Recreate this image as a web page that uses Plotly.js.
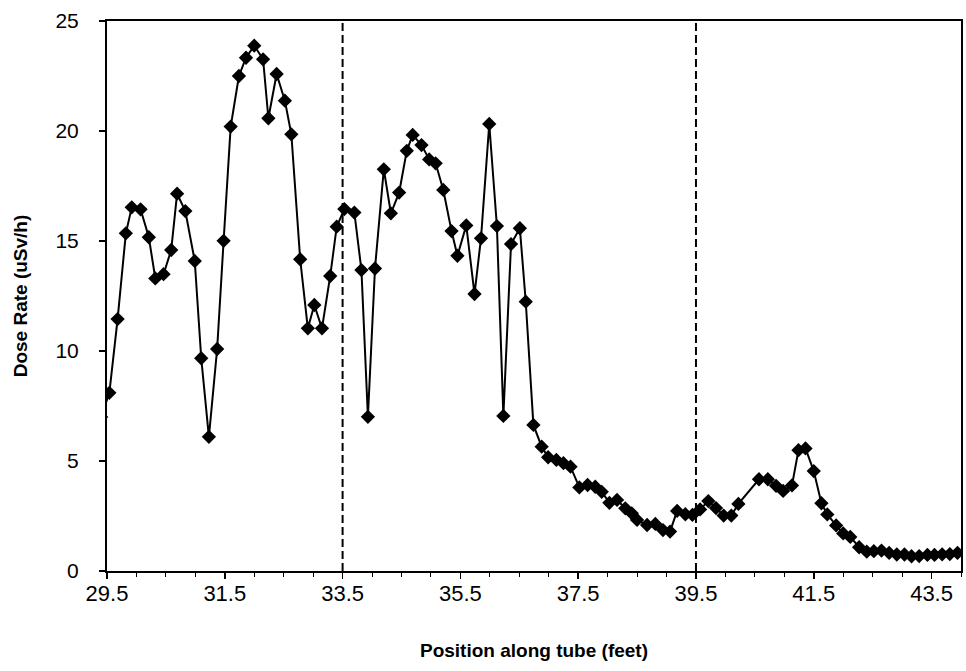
<!DOCTYPE html>
<html>
<head>
<meta charset="utf-8">
<script src="https://cdn.plot.ly/plotly-3.0.1.min.js"></script>
<style>
  html, body { margin: 0; padding: 0; background: #ffffff; }
  #chart { width: 966px; height: 671px; }
</style>
</head>
<body>
<div id="chart"></div>
<script>
// Position along tube (feet)
const positionFeet = [
  29.40, 29.54, 29.68, 29.82, 29.92, 30.07, 30.21, 30.32, 30.46, 30.59,
  30.69, 30.83, 30.99, 31.10, 31.23, 31.37, 31.48, 31.60, 31.74, 31.86,
  32.00, 32.15, 32.24, 32.38, 32.52, 32.63, 32.78, 32.91, 33.02, 33.15,
  33.29, 33.40, 33.53, 33.70, 33.82, 33.93, 34.05, 34.20, 34.32, 34.46,
  34.59, 34.69, 34.84, 34.97, 35.08, 35.21, 35.35, 35.45, 35.60, 35.74,
  35.85, 35.99, 36.12, 36.23, 36.36, 36.51, 36.61, 36.74, 36.88, 36.99,
  37.13, 37.25, 37.37, 37.52, 37.66, 37.79, 37.90, 38.03, 38.16, 38.30,
  38.41, 38.50, 38.67, 38.81, 38.94, 39.06, 39.18, 39.32, 39.44, 39.57,
  39.71, 39.84, 39.97, 40.10, 40.22, 40.57, 40.72, 40.86, 40.98, 41.13,
  41.24, 41.36, 41.50, 41.63, 41.73, 41.88, 42.00, 42.12, 42.27, 42.40,
  42.52, 42.65, 42.78, 42.91, 43.04, 43.16, 43.29, 43.43, 43.55, 43.68,
  43.81, 43.94
];
// Dose rate (uSv/h)
const doseRate = [
  7.00, 8.10, 11.45, 15.35, 16.53, 16.44, 15.17, 13.30, 13.49, 14.59,
  17.15, 16.36, 14.09, 9.67, 6.10, 10.09, 15.01, 20.20, 22.50, 23.33,
  23.88, 23.26, 20.58, 22.59, 21.38, 19.85, 14.17, 11.03, 12.09, 11.03,
  13.41, 15.65, 16.45, 16.29, 13.68, 7.01, 13.75, 18.26, 16.26, 17.20,
  19.10, 19.82, 19.36, 18.71, 18.53, 17.32, 15.45, 14.33, 15.71, 12.59,
  15.12, 20.32, 15.68, 7.05, 14.86, 15.58, 12.24, 6.64, 5.65, 5.17,
  5.05, 4.90, 4.74, 3.80, 3.91, 3.83, 3.60, 3.10, 3.23, 2.85,
  2.62, 2.32, 2.09, 2.14, 1.86, 1.79, 2.73, 2.58, 2.55, 2.80,
  3.18, 2.86, 2.52, 2.52, 3.05, 4.17, 4.17, 3.87, 3.64, 3.89,
  5.49, 5.57, 4.54, 3.08, 2.57, 2.07, 1.71, 1.55, 1.08, 0.88,
  0.90, 0.93, 0.82, 0.75, 0.75, 0.67, 0.68, 0.73, 0.73, 0.76,
  0.77, 0.82
];
// Section boundaries (feet), drawn as dashed vertical lines
const boundaries = [33.5, 39.5];
// Axis tick values / labels
const xTickVals = [29.5, 31.5, 33.5, 35.5, 37.5, 39.5, 41.5, 43.5];
const xTickText = ["29.5", "31.5", "33.5", "35.5", "37.5", "39.5", "41.5", "43.5"];
const yTickVals = [0, 5, 10, 15, 20, 25];

const FONT = "Liberation Sans, Arial, Helvetica, sans-serif";

const traces = [{
  x: positionFeet,
  y: doseRate,
  type: "scatter",
  mode: "lines+markers",
  line: { color: "#000000", width: 2 },
  marker: { symbol: "diamond", size: 11, color: "#000000", line: { width: 0 } },
  hoverinfo: "x+y",
  showlegend: false
}];

const shapes = boundaries.map(b => ({
  type: "line",
  xref: "x", yref: "y",
  x0: b, x1: b, y0: 0, y1: 25,
  line: { color: "#000000", width: 2, dash: "8px,4px" },
  layer: "above"
}));

const layout = {
  width: 966,
  height: 671,
  margin: { l: 107, r: 5, t: 21, b: 100, pad: 0 },
  paper_bgcolor: "#ffffff",
  plot_bgcolor: "#ffffff",
  font: { family: FONT, color: "#000000", size: 21 },
  showlegend: false,
  shapes: shapes,
  xaxis: {
    range: [29.5, 44.0],
    tickmode: "array",
    tickvals: xTickVals,
    ticktext: xTickText,
    ticks: "outside",
    ticklen: 6,
    tickwidth: 1.5,
    tickcolor: "#000000",
    minor: { dtick: 0.5, tick0: 29.5, ticks: "outside", ticklen: 4, tickwidth: 1, tickcolor: "#000000", showgrid: false },
    showgrid: false,
    zeroline: false,
    showline: true,
    linecolor: "#000000",
    linewidth: 2,
    mirror: true,
    tickfont: { family: FONT, size: 22, color: "#000000" },
    ticklabelstandoff: -4,
    title: {
      text: "<b>Position along tube (feet)</b>",
      font: { family: FONT, size: 19, color: "#000000" },
      standoff: 38
    }
  },
  yaxis: {
    range: [0, 25],
    tickmode: "array",
    tickvals: yTickVals,
    ticks: "outside",
    ticklen: 6,
    tickwidth: 1.5,
    tickcolor: "#000000",
    showgrid: false,
    zeroline: false,
    showline: true,
    linecolor: "#000000",
    linewidth: 2,
    mirror: true,
    tickfont: { family: FONT, size: 21, color: "#000000" },
    ticklabelstandoff: 16,
    title: {
      text: "<b>Dose Rate (uSv/h)</b>",
      font: { family: FONT, size: 19, color: "#000000" },
      standoff: 23
    }
  }
};

Plotly.newPlot("chart", traces, layout, { displayModeBar: false, staticPlot: true });
</script>
</body>
</html>
